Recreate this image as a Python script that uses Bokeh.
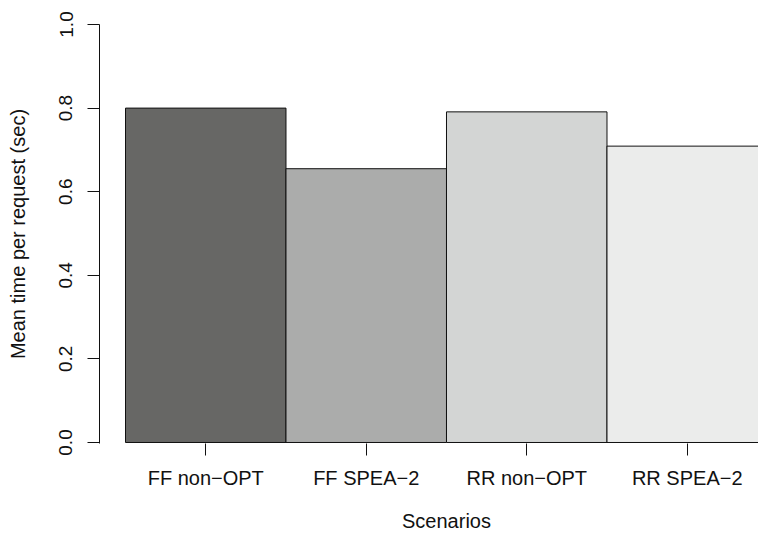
from bokeh.plotting import figure
from bokeh.models import Range1d, FixedTicker, PrintfTickFormatter, ColumnDataSource, LinearAxis
from bokeh.embed import file_html
from bokeh.resources import INLINE

# Data
scenarios = ["FF non\u2212OPT", "FF SPEA\u22122", "RR non\u2212OPT", "RR SPEA\u22122"]
mean_time = [0.800, 0.655, 0.791, 0.709]
bar_colors = ["#676765", "#ABACAB", "#D3D5D4", "#EBECEB"]
y_ticks = [0.0, 0.2, 0.4, 0.6, 0.8, 1.0]
x_title = "Scenarios"
y_title = "Mean time per request (sec)"

xs = [i + 0.5 for i in range(len(scenarios))]
src = ColumnDataSource(dict(
    left=[x - 0.5 for x in xs],
    right=[x + 0.5 for x in xs],
    top=mean_time,
    bottom=[0.0] * len(xs),
    color=bar_colors,
))

FONT = "Liberation Sans"
FS = "20px"
TXT = "#111111"

p = figure(width=758, height=534,
           x_range=Range1d(-0.162, 3.944), y_range=Range1d(-0.0024, 1.0),
           output_backend="svg", toolbar_location=None,
           min_border_left=99, min_border_right=0,
           min_border_top=24, min_border_bottom=91)
p.outline_line_color = None
p.xgrid.visible = False
p.ygrid.visible = False
p.background_fill_color = "white"
p.border_fill_color = "white"

p.quad(left="left", right="right", top="top", bottom="bottom",
       fill_color="color", line_color=TXT, line_width=1, source=src)

# y axis
ya = p.yaxis[0]
ya.ticker = FixedTicker(ticks=y_ticks)
ya.formatter = PrintfTickFormatter(format="%.1f")
ya.major_label_orientation = "vertical"
ya.axis_line_color = TXT
ya.major_tick_line_color = TXT
ya.major_tick_out = 12
ya.major_tick_in = 0
ya.minor_tick_out = 0
ya.minor_tick_in = 0
ya.major_label_standoff = 15
ya.major_label_text_font = FONT
ya.major_label_text_font_size = "19px"
ya.major_label_text_color = TXT
ya.axis_label = y_title
ya.axis_label_text_font = FONT
ya.axis_label_text_font_size = FS
ya.axis_label_text_font_style = "normal"
ya.axis_label_text_color = TXT
ya.axis_label_standoff = 28

# x axis (ticks + category labels)
xa = p.xaxis[0]
xa.ticker = FixedTicker(ticks=xs)
xa.major_label_overrides = {x: s for x, s in zip(xs, scenarios)}
xa.axis_line_color = None
xa.major_tick_line_color = TXT
xa.major_tick_out = 12
xa.major_tick_in = 0
xa.minor_tick_out = 0
xa.minor_tick_in = 0
xa.major_label_standoff = 11
xa.major_label_text_font = FONT
xa.major_label_text_font_size = FS
xa.major_label_text_color = TXT

# x title as a second axis, centred on the middle of the bar block
mid = len(scenarios) / 2
xt = LinearAxis(ticker=FixedTicker(ticks=[mid]),
                major_label_overrides={mid: x_title})
xt.axis_line_color = None
xt.major_tick_line_color = None
xt.major_tick_out = 0
xt.major_tick_in = 0
xt.minor_tick_out = 0
xt.minor_tick_in = 0
xt.major_label_standoff = 18
xt.major_label_text_font = FONT
xt.major_label_text_font_size = FS
xt.major_label_text_color = TXT
p.add_layout(xt, "below")

open("out.html", "w").write(file_html(p, INLINE))
